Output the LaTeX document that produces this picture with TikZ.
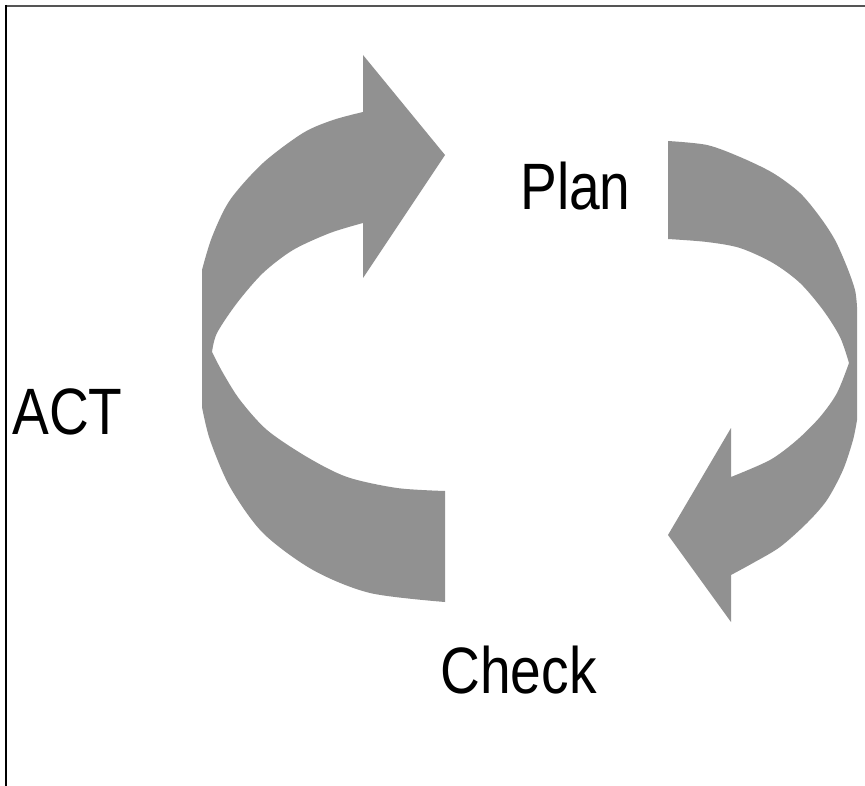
\documentclass[tikz,border=0pt]{standalone}
\usepackage{fontspec}
\setmainfont{Liberation Sans}
\definecolor{arrowgray}{RGB}{145,145,145}
\definecolor{framegray}{RGB}{85,85,85}
\begin{document}
\begin{tikzpicture}[x=1pt,y=-1pt,
  lbl/.style={inner sep=0pt,anchor=base,font=\fontsize{65.6}{70}\selectfont},
  band/.style={fill=arrowgray}]
\useasboundingbox (0,0) rectangle (865,786);
\fill[white] (0,0) rectangle (865,786);
% frame (top and left edges visible)
\draw[framegray,line width=1.8pt] (5,5.8) -- (865,5.8);
\draw[black,line width=1.6pt] (5.8,5) -- (5.8,786);
% left curved arrow (ACT)
\fill[band] (445,491) -- (445,602)
  -- plot[smooth] coordinates {(445,602)(370,593)(313,570)(263,533)(230,487)(210,440)(202,407)}
  -- (202,270)
  -- plot[smooth] coordinates {(202,270)(212,237)(230,200)(263,163)(303,133)(333,120)(363,112)}
  -- (363,55) -- (445,155) -- (363,278) -- (363,223)
  -- plot[smooth] coordinates {(363,223)(330,233)(293,250)(263,273)(237,303)(217,333)(212,352)}
  -- plot[smooth] coordinates {(212,352)(223,373)(240,400)(267,430)(307,457)(347,477)(397,488)(445,491)}
  -- cycle;
% right curved arrow (Plan)
\fill[band] (668,239) -- (668,141)
  -- plot[smooth] coordinates {(668,141)(707,145)(740,157)(773,173)(800,193)(820,217)(835,240)(847,267)(855,290)(857,307)}
  -- (857,420)
  -- plot[smooth] coordinates {(857,420)(853,440)(843,470)(827,500)(807,523)(780,547)(753,563)(731,575)}
  -- (731,622) -- (668,535) -- (731,428) -- (731,477)
  -- plot[smooth] coordinates {(731,477)(770,460)(797,440)(820,417)(837,393)(849,363)}
  -- plot[smooth] coordinates {(849,363)(840,337)(823,310)(800,283)(773,263)(740,248)(707,242)(668,239)}
  -- cycle;
% labels
\node[lbl] (act) at (67.5,434) {\scalebox{0.84}[1]{ACT}};
\node[lbl] (plan) at (575.5,210) {\scalebox{0.84}[1]{Plan}};
\node[lbl] (check) at (518.5,693) {\scalebox{0.84}[1]{Check}};
\end{tikzpicture}
\end{document}
